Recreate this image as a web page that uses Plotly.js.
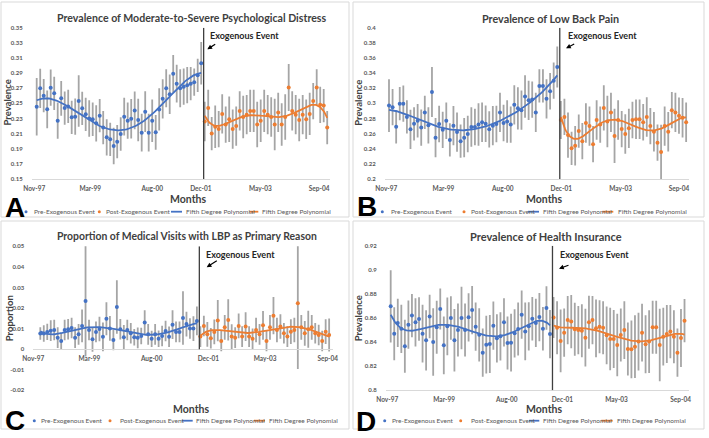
<!DOCTYPE html>
<html><head><meta charset="utf-8">
<script src="https://cdn.plot.ly/plotly-3.0.1.min.js"></script>
<style>html,body{margin:0;padding:0;background:#fff}#chart{width:709px;height:438px}</style>
</head><body><div id="chart"></div>
<script>
// ---------------- data ----------------
const xTickLabels = ['Nov-97','Mar-99','Aug-00','Dec-01','May-03','Sep-04'];
const legendLabels = ['Pre-Exogenous Event','Post-Exogenous Event','Fifth Degree Polynomial','Fifth Degree Polynomial'];
const panelTitles = ['Prevalence of Moderate-to-Severe Psychological Distress','Prevalence of Low Back Pain','Proportion of Medical Visits with LBP as Primary Reason','Prevalence of Health Insurance'];
const yAxisTitles = ['Prevalence','Prevalence','Proportion','Prevalence'];
const xAxisTitle = 'Months';
const eventLabel = 'Exogenous Event';
const panelLetters = ['A','B','C','D'];

// A: psychological distress
const distressPre = [0.2456,0.2698,0.2601,0.2421,0.2707,0.2632,0.2271,0.2566,0.2438,0.246,0.2315,0.2324,0.253,0.2434,0.2355,0.230,0.229,0.2236,0.2337,0.218,0.2051,0.2024,0.1936,0.1993,0.2095,0.2324,0.2271,0.2297,0.2407,0.228,0.2112,0.239,0.2112,0.227,0.2117,0.242,0.256,0.270,0.262,0.289,0.276,0.270,0.272,0.274,0.276,0.278,0.287,0.303];
const distressPreErr = [0.038,0.026,0.022,0.025,0.024,0.022,0.024,0.023,0.022,0.022,0.022,0.024,0.034,0.022,0.022,0.024,0.022,0.024,0.022,0.022,0.024,0.022,0.024,0.022,0.022,0.025,0.024,0.026,0.025,0.028,0.025,0.027,0.025,0.028,0.023,0.028,0.026,0.025,0.026,0.025,0.025,0.025,0.024,0.024,0.022,0.018,0.022,0.028];
const distressPost = [0.226,0.244,0.210,0.219,0.216,0.236,0.222,0.229,0.216,0.220,0.240,0.232,0.235,0.240,0.240,0.222,0.227,0.240,0.235,0.232,0.222,0.238,0.222,0.232,0.271,0.240,0.235,0.228,0.235,0.229,0.236,0.253,0.271,0.248,0.247,0.218];
const distressPostErr = [0.026,0.024,0.022,0.028,0.024,0.026,0.024,0.030,0.026,0.026,0.026,0.028,0.026,0.028,0.028,0.030,0.028,0.028,0.026,0.026,0.034,0.026,0.028,0.030,0.031,0.026,0.026,0.028,0.026,0.026,0.028,0.024,0.024,0.024,0.022,0.022];

// B: low back pain
const backPainPre = [0.297,0.295,0.269,0.2996,0.2996,0.282,0.2656,0.273,0.277,0.268,0.288,0.271,0.315,0.2546,0.2727,0.265,0.277,0.2516,0.2705,0.262,0.250,0.2546,0.2595,0.2687,0.2687,0.272,0.275,0.273,0.2656,0.2705,0.2727,0.288,0.274,0.276,0.272,0.298,0.2934,0.291,0.309,0.304,0.305,0.288,0.323,0.323,0.306,0.316,0.330,0.348];
const backPainPreErr = [0.035,0.024,0.022,0.022,0.024,0.022,0.026,0.022,0.022,0.024,0.022,0.024,0.033,0.026,0.024,0.024,0.024,0.022,0.026,0.026,0.022,0.026,0.024,0.026,0.024,0.028,0.026,0.024,0.024,0.026,0.024,0.026,0.024,0.028,0.024,0.026,0.028,0.026,0.028,0.026,0.024,0.026,0.022,0.022,0.026,0.024,0.024,0.027];
const backPainPost = [0.278,0.282,0.258,0.2405,0.244,0.2634,0.250,0.274,0.270,0.246,0.278,0.272,0.294,0.276,0.288,0.257,0.278,0.266,0.2595,0.267,0.278,0.279,0.279,0.275,0.282,0.270,0.2625,0.248,0.2357,0.270,0.2625,0.291,0.288,0.2837,0.281,0.275];
const backPainPostErr = [0.025,0.024,0.030,0.022,0.026,0.022,0.024,0.026,0.026,0.024,0.026,0.024,0.030,0.034,0.026,0.036,0.026,0.024,0.026,0.026,0.024,0.026,0.026,0.024,0.026,0.024,0.026,0.024,0.036,0.026,0.026,0.024,0.026,0.024,0.026,0.026];

// C: medical visits with LBP as primary reason
const visitsPre = [0.0076,0.0076,0.0084,0.009,0.0093,0.0056,0.004,0.0093,0.0097,0.0103,0.0056,0.0072,0.0113,0.0234,0.0093,0.0048,0.0084,0.0098,0.006,0.0148,0.0101,0.0045,0.0205,0.0097,0.0058,0.0093,0.0077,0.0058,0.0055,0.0064,0.0129,0.0072,0.005,0.0072,0.0051,0.0064,0.0088,0.006,0.0119,0.0084,0.0084,0.0152,0.0122,0.01,0.01,0.0137];
const visitsPreErr = [0.003,0.004,0.004,0.005,0.005,0.005,0.004,0.005,0.005,0.005,0.005,0.005,0.008,0.027,0.005,0.006,0.005,0.006,0.007,0.008,0.006,0.005,0.013,0.005,0.006,0.005,0.005,0.004,0.005,0.004,0.006,0.005,0.004,0.005,0.004,0.005,0.005,0.005,0.007,0.005,0.005,0.013,0.006,0.005,0.006,0.007];
const visitsPost = [0.0061,0.0113,0.0072,0.0053,0.0084,0.0139,0.004,0.0106,0.0142,0.0061,0.0056,0.0113,0.0061,0.011,0.0061,0.005,0.0093,0.0072,0.0116,0.004,0.0106,0.0163,0.0093,0.011,0.0077,0.0061,0.0085,0.0093,0.0223,0.0106,0.0077,0.0097,0.0106,0.0077,0.0069,0.004,0.0085,0.0069];
const visitsPostErr = [0.005,0.005,0.006,0.005,0.006,0.010,0.005,0.006,0.010,0.006,0.005,0.006,0.005,0.007,0.005,0.005,0.006,0.005,0.007,0.005,0.006,0.009,0.006,0.006,0.005,0.005,0.006,0.006,0.032,0.006,0.006,0.009,0.006,0.005,0.005,0.005,0.006,0.008];

// D: health insurance
const insurancePre = [0.8697,0.847,0.8559,0.851,0.8365,0.8545,0.862,0.8564,0.8592,0.847,0.8415,0.8612,0.840,0.8523,0.8675,0.8373,0.8531,0.860,0.8415,0.850,0.860,0.850,0.8606,0.8666,0.8528,0.846,0.8312,0.8379,0.8384,0.8536,0.8431,0.8448,0.8564,0.8393,0.8395,0.8473,0.8509,0.8628,0.8489,0.8531,0.8594,0.8559,0.8608,0.8511,0.8683,0.8467];
const insurancePreErr = [0.030,0.022,0.020,0.020,0.022,0.020,0.018,0.020,0.018,0.024,0.025,0.018,0.028,0.022,0.017,0.024,0.024,0.018,0.026,0.022,0.026,0.022,0.020,0.020,0.020,0.022,0.020,0.024,0.024,0.020,0.020,0.020,0.020,0.022,0.024,0.020,0.022,0.020,0.024,0.020,0.018,0.020,0.020,0.018,0.018,0.020];
const insurancePost = [0.8605,0.852,0.841,0.8478,0.8583,0.857,0.8506,0.850,0.8495,0.8437,0.8564,0.8583,0.8514,0.8528,0.852,0.8456,0.8426,0.8426,0.8376,0.8459,0.850,0.8343,0.834,0.8362,0.8404,0.8478,0.8382,0.8404,0.8523,0.8523,0.8376,0.8445,0.8467,0.8487,0.8445,0.8312,0.8434,0.8578];
const insurancePostErr = [0.017,0.022,0.026,0.020,0.020,0.022,0.022,0.020,0.022,0.024,0.022,0.020,0.024,0.022,0.022,0.024,0.026,0.024,0.026,0.022,0.024,0.022,0.024,0.026,0.024,0.024,0.024,0.026,0.022,0.022,0.030,0.024,0.024,0.022,0.022,0.020,0.024,0.018];

const yTicksDistress = [0.15,0.17,0.19,0.21,0.23,0.25,0.27,0.29,0.31,0.33,0.35];
const yTicksBackPain = [0.2,0.22,0.24,0.26,0.28,0.3,0.32,0.34,0.36,0.38,0.4];
const yTicksVisits = [-0.02,-0.01,0,0.01,0.02,0.03,0.04,0.05];
const yTicksInsurance = [0.8,0.82,0.84,0.86,0.88,0.9,0.92];

// ---------------- helpers ----------------
const W = 709, H = 438;
const px = x => x / W;
const py = y => 1 - y / H;
const BLUE = '#4472C4', ORANGE = '#ED7D31', ERR = '#a5a5a5', TXT = '#595959';
const SANS = 'Lato, "Open Sans", sans-serif';
const ARIAL = '"Liberation Sans", Arial, sans-serif';

function polyFit(xs, ys, deg) {
  const n = xs.length, m = deg + 1;
  const mx = xs.reduce((a, b) => a + b, 0) / n;
  const sx = (Math.max(...xs) - Math.min(...xs)) / 2 || 1;
  const A = Array.from({length: m}, () => new Array(m + 1).fill(0));
  for (let i = 0; i < n; i++) {
    const t = (xs[i] - mx) / sx, p = [1];
    for (let k = 1; k < m; k++) p.push(p[k - 1] * t);
    for (let r = 0; r < m; r++) { for (let c = 0; c < m; c++) A[r][c] += p[r] * p[c]; A[r][m] += p[r] * ys[i]; }
  }
  for (let c = 0; c < m; c++) {
    let piv = c;
    for (let r = c + 1; r < m; r++) if (Math.abs(A[r][c]) > Math.abs(A[piv][c])) piv = r;
    [A[c], A[piv]] = [A[piv], A[c]];
    for (let r = 0; r < m; r++) {
      if (r === c) continue;
      const f = A[r][c] / A[c][c];
      for (let k = c; k <= m; k++) A[r][k] -= f * A[c][k];
    }
  }
  const coef = A.map((row, i) => row[m] / row[i]);
  return x => { const t = (x - mx) / sx; let s = 0, p = 1; for (let k = 0; k < m; k++) { s += coef[k] * p; p *= t; } return s; };
}

// ---------------- panel layout config ----------------
const panels = [
  {pre: distressPre, preErr: distressPreErr, post: distressPost, postErr: distressPostErr, yTicks: yTicksDistress,
   ylim: [0.15, 0.35], box: [1, 2, 349, 217], plot: [31.7, 27.7, 330, 179], firstX: 36.7, step: 3.5,
   xTickPos: [-0.69, 15.3, 33.0, 46.9, 63.9, 80.7], zeroAxis: false, eventBottom: 0.15, titleSize: 10.6,
   titlePos: [191.7, 18.3], yTitlePos: [7, 102.5], monthsPos: [188, 199.3], exoPos: [208, 35],
   arrow: [216.7, 43.3, 207.3, 49.3], letterPos: [3, 207], legY: 211.7,
   leg: [26, 31.7, 99.3, 104, 171, 182, 184.3, 249.3, 258.3, 260]},
  {pre: backPainPre, preErr: backPainPreErr, post: backPainPost, postErr: backPainPostErr, yTicks: yTicksBackPain,
   ylim: [0.2, 0.4], box: [353, 2, 704, 217], plot: [384.7, 27.7, 689, 179], firstX: 389, step: 3.58,
   xTickPos: [-0.75, 15.2, 31.8, 48.1, 64.7, 81.0], zeroAxis: false, eventBottom: 0.2, titleSize: 10.8,
   titlePos: [550.7, 18.3], yTitlePos: [358.5, 103.3], monthsPos: [544, 199.3], exoPos: [565.7, 35],
   arrow: [575.7, 43.3, 566, 48.3], letterPos: [355, 206], legY: 211.7,
   leg: [382.3, 389, 464, 469, 528, 539, 541.3, 602.3, 613.3, 615.7]},
  {pre: visitsPre, preErr: visitsPreErr, post: visitsPost, postErr: visitsPostErr, yTicks: yTicksVisits,
   ylim: [-0.02, 0.05], box: [1, 221, 349, 429], plot: [33.3, 246.3, 333.3, 390.3], firstX: 40.3, step: 3.48,
   xTickPos: [-2.0, 14.1, 32.0, 48.3, 64.6, 82.6], zeroAxis: true, eventBottom: 0, titleSize: 10.4,
   titlePos: [187, 236.3], yTitlePos: [9.5, 318.7], monthsPos: [190.8, 409], exoPos: [204, 254.7],
   arrow: [218.3, 259.7, 206.7, 267.3], letterPos: [3, 420], legY: 420.7,
   leg: [34.3, 39.3, 110, 117.7, 181.7, 192.7, 194.3, 254, 265, 266.7]},
  {pre: insurancePre, preErr: insurancePreErr, post: insurancePost, postErr: insurancePostErr, yTicks: yTicksInsurance,
   ylim: [0.8, 0.92], box: [353, 221, 704, 429], plot: [385.7, 245.7, 689, 390.3], firstX: 390.7, step: 3.54,
   xTickPos: [-0.96, 15.1, 32.8, 48.5, 63.8, 81.9], zeroAxis: false, eventBottom: 0.8, titleSize: 11,
   titlePos: [545.8, 236.3], yTitlePos: [358.5, 318.8], monthsPos: [543.5, 409], exoPos: [558, 254.7],
   arrow: [570, 264.7, 559, 268.7], letterPos: [354, 421.5], legY: 420.7,
   leg: [384.7, 390, 460.7, 469, 529, 539.3, 541.3, 601.3, 612.7, 615]}
];

const traces = [], shapes = [], annotations = [];
const layout = {
  width: W, height: H, margin: {l: 0, r: 0, t: 0, b: 0},
  paper_bgcolor: '#fff', plot_bgcolor: '#fff', showlegend: false,
  font: {family: SANS, color: TXT}
};

panels.forEach((p, idx) => {
  const k = idx + 1, sfx = k === 1 ? '' : String(k);
  const xa = 'x' + sfx, ya = 'y' + sfx;
  const preX = p.pre.map((_, i) => i);
  const postX = p.post.map((_, i) => p.pre.length + i);
  const eventX = p.pre.length - 0.3;

  const [x0, y0, x1, y1] = p.plot;
  const ydom = [py(y1), py(y0)];
  const xaxis = {
    domain: [px(x0), px(x1)], range: [(x0 - p.firstX) / p.step, (x1 - p.firstX) / p.step],
    showgrid: false, zeroline: false, showline: true, linecolor: '#d9d9d9', linewidth: 1,
    ticks: '', tickmode: 'array', tickvals: p.xTickPos, ticktext: xTickLabels,
    tickfont: {family: SANS, size: 6.5, color: TXT, weight: 'bold'}, ticklabelstandoff: 3
  };
  if (p.zeroAxis) {
    xaxis.anchor = 'free';
    xaxis.position = ydom[0] + (0 - p.ylim[0]) / (p.ylim[1] - p.ylim[0]) * (ydom[1] - ydom[0]);
  } else {
    xaxis.anchor = ya;
  }
  layout['xaxis' + sfx] = xaxis;
  layout['yaxis' + sfx] = {
    domain: ydom, range: p.ylim, anchor: xa,
    showgrid: false, zeroline: false, showline: false, ticks: '',
    tickmode: 'array', tickvals: p.yTicks, ticktext: p.yTicks.map(v => String(v)),
    tickfont: {family: SANS, size: 6, color: TXT, weight: 'bold'}, ticklabelstandoff: 8
  };

  const errStyle = arr => ({type: 'data', array: arr, visible: true, color: ERR, thickness: 1.8, width: 0});
  traces.push({x: preX, y: p.pre, xaxis: xa, yaxis: ya, type: 'scatter', mode: 'markers', name: legendLabels[0],
    marker: {color: BLUE, size: 4}, error_y: errStyle(p.preErr), hoverinfo: 'skip'});
  traces.push({x: postX, y: p.post, xaxis: xa, yaxis: ya, type: 'scatter', mode: 'markers', name: legendLabels[1],
    marker: {color: ORANGE, size: 4}, error_y: errStyle(p.postErr), hoverinfo: 'skip'});

  const fitPre = polyFit(preX, p.pre, 5), fitPost = polyFit(postX, p.post, 5);
  const curve = (xs, f) => {
    const a = xs[0], b = xs[xs.length - 1], N = 150, cx = [], cy = [];
    for (let i = 0; i <= N; i++) { const x = a + (b - a) * i / N; cx.push(x); cy.push(f(x)); }
    return [cx, cy];
  };
  const [cpx, cpy] = curve(preX, fitPre), [cqx, cqy] = curve(postX, fitPost);
  traces.push({x: cpx, y: cpy, xaxis: xa, yaxis: ya, type: 'scatter', mode: 'lines', name: legendLabels[2],
    line: {color: BLUE, width: 1.8}, hoverinfo: 'skip'});
  traces.push({x: cqx, y: cqy, xaxis: xa, yaxis: ya, type: 'scatter', mode: 'lines', name: legendLabels[3],
    line: {color: ORANGE, width: 1.8}, hoverinfo: 'skip'});

  shapes.push({type: 'line', xref: xa, yref: ya, x0: eventX, x1: eventX, y0: p.eventBottom, y1: p.ylim[1],
    line: {color: '#3f3f3f', width: 1.3}, layer: 'above'});
  const [bx0, by0, bx1, by1] = p.box;
  shapes.push({type: 'rect', xref: 'paper', yref: 'paper', x0: px(bx0), x1: px(bx1), y0: py(by1), y1: py(by0),
    line: {color: '#d9d9d9', width: 1}, fillcolor: 'rgba(0,0,0,0)', layer: 'below'});

  annotations.push({xref: 'paper', yref: 'paper', x: px(p.titlePos[0]), y: py(p.titlePos[1]), xanchor: 'center', yanchor: 'middle',
    text: panelTitles[idx], showarrow: false, font: {family: SANS, size: p.titleSize, color: '#404040', weight: 'bold'}});
  annotations.push({xref: 'paper', yref: 'paper', x: px(p.yTitlePos[0]), y: py(p.yTitlePos[1]), xanchor: 'center', yanchor: 'middle',
    text: yAxisTitles[idx], textangle: -90, showarrow: false, font: {family: SANS, size: 9.5, color: '#404040', weight: 'bold'}});
  annotations.push({xref: 'paper', yref: 'paper', x: px(p.monthsPos[0]), y: py(p.monthsPos[1]), xanchor: 'center', yanchor: 'middle',
    text: xAxisTitle, showarrow: false, font: {family: SANS, size: 10.5, color: '#404040', weight: 'bold'}});
  annotations.push({xref: 'paper', yref: 'paper', x: px(p.exoPos[0]), y: py(p.exoPos[1]), xanchor: 'left', yanchor: 'middle',
    text: eventLabel, showarrow: false, font: {family: SANS, size: 9, color: '#262626', weight: 'bold'}});
  const [tx, ty, hx, hy] = p.arrow;
  annotations.push({xref: 'paper', yref: 'paper', x: px(hx), y: py(hy), ax: tx - hx, ay: ty - hy, text: '',
    showarrow: true, arrowhead: 2, arrowsize: 0.8, arrowwidth: 1.2, arrowcolor: '#000', standoff: 0, startstandoff: 0});
  annotations.push({xref: 'paper', yref: 'paper', x: px(p.letterPos[0]), y: py(p.letterPos[1]), xanchor: 'left', yanchor: 'middle',
    text: panelLetters[idx], showarrow: false, font: {family: ARIAL, size: 28, color: '#000', weight: 'bold'}});

  const L = p.leg, ly = p.legY;
  [[L[0], BLUE], [L[2], ORANGE]].forEach(([cx, col]) => {
    shapes.push({type: 'circle', xref: 'paper', yref: 'paper', x0: px(cx - 1.5), x1: px(cx + 1.5), y0: py(ly + 1.5), y1: py(ly - 1.5),
      fillcolor: col, line: {width: 0}});
  });
  [[L[4], L[5], BLUE], [L[7], L[8], ORANGE]].forEach(([a, b, col]) => {
    shapes.push({type: 'line', xref: 'paper', yref: 'paper', x0: px(a), x1: px(b), y0: py(ly), y1: py(ly), line: {color: col, width: 1.8}});
  });
  [L[1], L[3], L[6], L[9]].forEach((lx, j) => {
    annotations.push({xref: 'paper', yref: 'paper', x: px(lx), y: py(ly), xanchor: 'left', yanchor: 'middle',
      text: legendLabels[j], showarrow: false, font: {family: SANS, size: 6.5, color: TXT}});
  });
});

layout.shapes = shapes;
layout.annotations = annotations;
Plotly.newPlot('chart', traces, layout, {staticPlot: true, displayModeBar: false});
</script>
</body></html>
